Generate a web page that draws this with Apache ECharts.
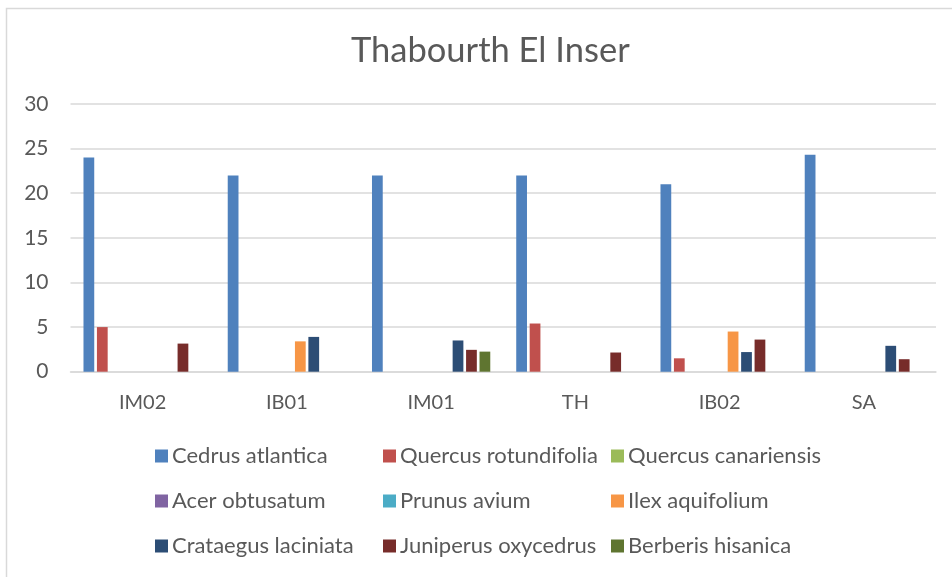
<!DOCTYPE html>
<html>
<head>
<meta charset="utf-8">
<script src="https://cdn.jsdelivr.net/npm/echarts@6/dist/echarts.min.js"></script>
<style>
html,body{margin:0;padding:0;background:#fff;}
#chart{width:952px;height:577px;}
</style>
</head>
<body>
<div id="chart"></div>
<script>
var title = 'Thabourth El Inser';
var categories = ['IM02', 'IB01', 'IM01', 'TH', 'IB02', 'SA'];
var yTicks = [0, 5, 10, 15, 20, 25, 30];

var cedrusAtlantica      = [24, 22, 22, 22, 21, 24.3];
var quercusRotundifolia  = [5, 0, 0, 5.4, 1.5, 0];
var quercusCanariensis   = [0, 0, 0, 0, 0, 0];
var acerObtusatum        = [0, 0, 0, 0, 0, 0];
var prunusAvium          = [0, 0, 0, 0, 0, 0];
var ilexAquifolium       = [0, 3.4, 0, 0, 4.5, 0];
var crataegusLaciniata   = [0, 3.9, 3.5, 0, 2.2, 2.9];
var juniperusOxycedrus   = [3.15, 0, 2.45, 2.15, 3.6, 1.4];
var berberisHisanica     = [0, 0, 2.25, 0, 0, 0];

var seriesNames = ['Cedrus atlantica', 'Quercus rotundifolia', 'Quercus canariensis',
  'Acer obtusatum', 'Prunus avium', 'Ilex aquifolium',
  'Crataegus laciniata', 'Juniperus oxycedrus', 'Berberis hisanica'];
var seriesValues = [cedrusAtlantica, quercusRotundifolia, quercusCanariensis,
  acerObtusatum, prunusAvium, ilexAquifolium,
  crataegusLaciniata, juniperusOxycedrus, berberisHisanica];
var colors = ['#4F81BD', '#C0504D', '#9BBB59', '#8064A2', '#4BACC6', '#F79646',
  '#2C4D75', '#772C2A', '#5F7530'];

var FONT = 'Lato';
var TXT = '#595959';

var series = seriesNames.map(function (n, i) {
  return {
    name: n,
    type: 'bar',
    data: seriesValues[i].map(function (v) { return v === 0 ? null : v; }),
    itemStyle: { color: colors[i] },
    barGap: '25%',
    barCategoryGap: '18%',
    animation: false
  };
});

// legend: 3 columns (vertical), positions are layout only
var colLeft = [150, 378, 606];
var legends = [0, 1, 2].map(function (c) {
  return {
    orient: 'vertical',
    left: colLeft[c],
    top: 439,
    itemWidth: 13,
    itemHeight: 13,
    itemGap: 21,
    icon: 'rect',
    data: [seriesNames[c], seriesNames[c + 3], seriesNames[c + 6]],
    textStyle: { color: TXT, fontFamily: FONT, fontSize: 22, lineHeight: 24, padding: [0, 0, 0, -1] },
    selectedMode: false
  };
});

var chart = echarts.init(document.getElementById('chart'), null, { renderer: 'canvas' });
chart.setOption({
  backgroundColor: '#fff',
  color: colors,
  animation: false,
  title: {
    text: title,
    left: 346,
    top: 28,
    textStyle: { color: TXT, fontFamily: FONT, fontSize: 34.5, fontWeight: 'normal' }
  },
  graphic: [{
    type: 'rect',
    shape: { x: 6.5, y: 8.5, width: 960, height: 600 },
    style: { fill: 'none', stroke: '#d9d9d9', lineWidth: 1.5 },
    silent: true
  }],
  legend: legends,
  grid: { left: 70.5, right: 16, top: 104, bottom: 205.3, containLabel: false },
  xAxis: {
    type: 'category',
    data: categories,
    axisLine: { lineStyle: { color: '#d9d9d9', width: 1.5 } },
    axisTick: { show: false },
    axisLabel: { color: TXT, fontFamily: FONT, fontSize: 20, margin: 21 }
  },
  yAxis: {
    type: 'value',
    min: yTicks[0],
    max: yTicks[yTicks.length - 1],
    interval: yTicks[1] - yTicks[0],
    axisLine: { show: false },
    axisTick: { show: false },
    splitLine: { lineStyle: { color: '#d9d9d9', width: 1.5 } },
    axisLabel: { color: TXT, fontFamily: FONT, fontSize: 21, margin: 22 }
  },
  series: series
});
</script>
</body>
</html>
